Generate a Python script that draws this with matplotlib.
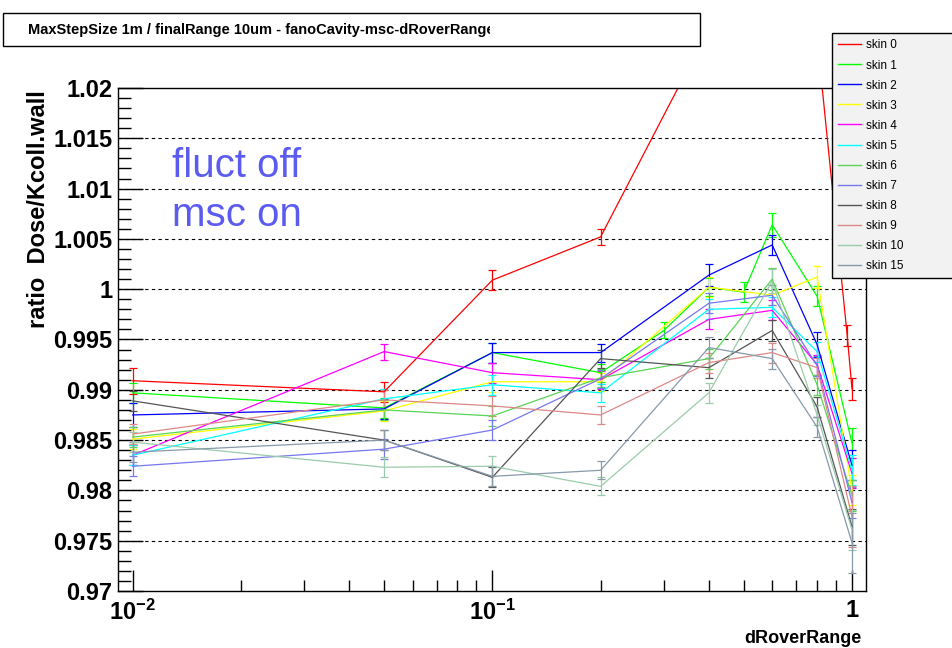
import matplotlib
matplotlib.use('Agg')
import matplotlib.pyplot as plt
from matplotlib.lines import Line2D
from matplotlib.patches import Rectangle
from matplotlib.ticker import LogLocator, NullFormatter, FuncFormatter, MultipleLocator
from matplotlib.transforms import Bbox

plt.rcParams['font.family'] = ['Liberation Sans', 'DejaVu Sans']
plt.rcParams['mathtext.fontset'] = 'custom'
plt.rcParams['mathtext.rm'] = 'Liberation Sans:bold'
plt.rcParams['mathtext.bf'] = 'Liberation Sans:bold'
plt.rcParams['mathtext.it'] = 'Liberation Sans:bold'

# ---- data ----
x_base = [0.01, 0.05, 0.1, 0.2, 0.4, 0.6, 0.8, 1.0]
x_skin0 = [0.01, 0.05, 0.1, 0.2, 0.4, 0.6, 0.8, 0.97, 1.0]
x_skin1 = [0.01, 0.05, 0.1, 0.2, 0.3, 0.4, 0.5, 0.6, 0.8, 1.0]

y_skin0 = [0.9909, 0.9898, 1.0009, 1.0052, 1.0259, 1.0300, 1.0250, 0.9954, 0.9901]
e_skin0 = [0.0013, 0.0010, 0.0010, 0.0008, 0.0010, 0.0010, 0.0010, 0.0010, 0.0011]
y_skin1 = [0.9897, 0.9882, 0.9937, 0.9917, 0.9959, 1.0002, 0.9997, 1.0064, 0.9993, 0.9847]
e_skin1 = [0.0010, 0.0010, 0.0010, 0.0009, 0.0008, 0.0009, 0.0010, 0.0012, 0.0010, 0.0015]
y_skin2 = [0.9875, 0.9881, 0.9937, 0.9937, 1.0014, 1.0044, 0.9945, 0.9825]
e_skin2 = [0.0012, 0.0010, 0.0010, 0.0009, 0.0011, 0.0010, 0.0012, 0.0015]
y_skin3 = [0.9851, 0.9879, 0.9908, 0.9908, 1.0002, 0.9994, 1.0012, 0.9800]
e_skin3 = [0.0010, 0.0010, 0.0010, 0.0009, 0.0010, 0.0010, 0.0011, 0.0015]
y_skin4 = [0.9835, 0.9938, 0.9917, 0.9910, 0.9970, 0.9979, 0.9925, 0.9817]
e_skin4 = [0.0010, 0.0008, 0.0010, 0.0009, 0.0010, 0.0010, 0.0010, 0.0015]
y_skin5 = [0.9835, 0.9891, 0.9905, 0.9897, 0.9980, 0.9982, 0.9938, 0.9820]
e_skin5 = [0.0010, 0.0010, 0.0010, 0.0009, 0.0010, 0.0010, 0.0010, 0.0015]
y_skin6 = [0.9853, 0.9880, 0.9874, 0.9912, 0.9931, 1.0010, 0.9905, 0.9795]
e_skin6 = [0.0010, 0.0010, 0.0010, 0.0009, 0.0010, 0.0011, 0.0010, 0.0015]
y_skin7 = [0.9824, 0.9841, 0.9860, 0.9911, 0.9986, 0.9994, 0.9924, 0.9788]
e_skin7 = [0.0010, 0.0010, 0.0010, 0.0009, 0.0010, 0.0010, 0.0010, 0.0015]
y_skin8 = [0.9889, 0.9850, 0.9813, 0.9931, 0.9922, 0.9959, 0.9883, 0.9764]
e_skin8 = [0.0010, 0.0010, 0.0010, 0.0009, 0.0010, 0.0010, 0.0010, 0.0018]
y_skin9 = [0.9856, 0.9890, 0.9884, 0.9875, 0.9927, 0.9937, 0.9922, 0.9774]
e_skin9 = [0.0010, 0.0010, 0.0010, 0.0009, 0.0010, 0.0010, 0.0010, 0.0030]
y_skin10 = [0.9848, 0.9823, 0.9824, 0.9804, 0.9897, 1.0008, 0.9875, 0.9761]
e_skin10 = [0.0010, 0.0010, 0.0010, 0.0009, 0.0010, 0.0012, 0.0010, 0.0020]
y_skin15 = [0.9838, 0.9850, 0.9814, 0.9820, 0.9942, 0.9931, 0.9863, 0.9748]
e_skin15 = [0.0010, 0.0010, 0.0010, 0.0009, 0.0010, 0.0010, 0.0010, 0.0030]

labels = ['skin 0', 'skin 1', 'skin 2', 'skin 3', 'skin 4', 'skin 5',
          'skin 6', 'skin 7', 'skin 8', 'skin 9', 'skin 10', 'skin 15']
colors = ['#ff0000', '#00ff00', '#0000ff', '#ffff00', '#ff00ff', '#00ffff',
          '#59d454', '#7777ee', '#555555', '#dd8888', '#99ccaa', '#8899aa']

series = [
    (x_skin0, y_skin0, e_skin0), (x_skin1, y_skin1, e_skin1),
    (x_base, y_skin2, e_skin2), (x_base, y_skin3, e_skin3),
    (x_base, y_skin4, e_skin4), (x_base, y_skin5, e_skin5),
    (x_base, y_skin6, e_skin6), (x_base, y_skin7, e_skin7),
    (x_base, y_skin8, e_skin8), (x_base, y_skin9, e_skin9),
    (x_base, y_skin10, e_skin10), (x_base, y_skin15, e_skin15),
]

W, H = 953, 648
fig = plt.figure(figsize=(W / 100, H / 100), dpi=100)
ax = fig.add_axes([118 / W, 1 - 591 / H, (866 - 118) / W, (591 - 88) / H])

ax.set_xscale('log')
ax.set_xlim(0.0091, 1.094)
ax.set_ylim(0.97, 1.02)

# dashed horizontal grid
for v in [0.975, 0.98, 0.985, 0.99, 0.995, 1.0, 1.005, 1.01, 1.015]:
    ax.axhline(v, color='black', lw=0.8, ls=(0, (3, 3)), zorder=0.5)

for (xs, ys, es), c in zip(series, colors):
    ax.errorbar(xs, ys, yerr=es, color=c, lw=0.9, elinewidth=0.9,
                capsize=3, capthick=0.9, zorder=2)

# axes styling
ax.yaxis.set_major_locator(MultipleLocator(0.005))
ax.yaxis.set_minor_locator(MultipleLocator(0.001))
ax.yaxis.set_major_formatter(FuncFormatter(lambda v, _: f'{v:g}'))
ax.set_xticks([0.01, 0.1, 1])
ax.set_xticklabels([r'$10^{-2}$', r'$10^{-1}$', '1'])
ax.xaxis.set_minor_locator(LogLocator(base=10, subs=range(2, 10)))
ax.xaxis.set_minor_formatter(NullFormatter())
ax.tick_params(axis='y', which='major', direction='in', length=18, width=1, labelsize=17, pad=4)
ax.tick_params(axis='y', which='minor', direction='in', length=9, width=1)
ax.tick_params(axis='x', which='major', direction='in', length=15, width=1, labelsize=17, pad=6)
ax.tick_params(axis='x', which='minor', direction='in', length=8, width=1)
for lab in ax.get_yticklabels() + ax.get_xticklabels():
    lab.set_fontweight('bold')
for sp in ax.spines.values():
    sp.set_linewidth(1)

fig.text(862 / W, 1 - 643 / H, 'dRoverRange', ha='right', va='baseline',
         fontsize=13, fontweight='bold')
fig.text(39 / W, 1 - 90 / H, 'ratio  Dose/Kcoll.wall', ha='center', va='top',
         rotation=90, fontsize=17, fontweight='bold')

fig.text(172 / W, 1 - 177 / H, 'fluct off', color='#5b5bf0', fontsize=29, va='baseline')
fig.text(172 / W, 1 - 226 / H, 'msc on', color='#5b5bf0', fontsize=29, va='baseline')

# title box
fig.patches.append(Rectangle((3 / W, 1 - 46 / H), 697 / W, 33 / H, transform=fig.transFigure,
                             facecolor='white', edgecolor='black', lw=1))
t = fig.text(28 / W, 1 - 30 / H, 'MaxStepSize 1m / finalRange 10um - fanoCavity-msc-dRoverRange',
             fontsize=10.5, fontweight='bold', va='center')
t.set_clip_box(Bbox.from_extents(0, 0, 490, H))
t.set_clip_on(True)

# legend
handles = [Line2D([], [], color=c, lw=1) for c in colors]
leg = fig.legend(handles, labels, loc='upper left',
                 bbox_to_anchor=(832 / W, 1 - 275 / H, 121 / W, 242 / H), mode='expand',
                 fontsize=8.5, handlelength=1.9, handletextpad=0.4, borderaxespad=0,
                 labelspacing=0.68, borderpad=0.55, fancybox=False, framealpha=1,
                 facecolor='#f2f2f2', edgecolor='black')
leg.get_frame().set_linewidth(1)

fig.savefig('out.png', dpi=100)
